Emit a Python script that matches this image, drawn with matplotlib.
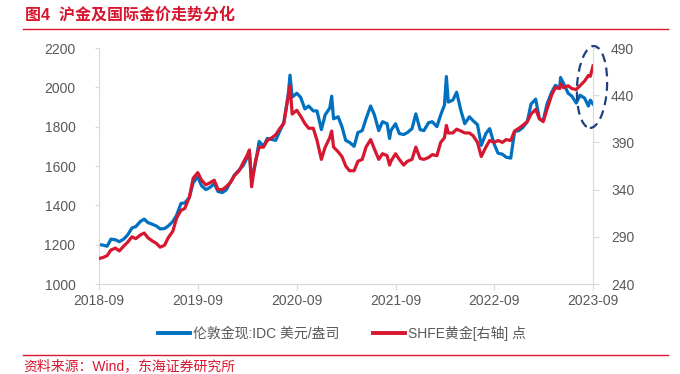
#!/usr/bin/env python3
"""Shanghai gold vs international gold price chart (图4)."""

import matplotlib

matplotlib.use("Agg")

import matplotlib.pyplot as plt
import matplotlib.dates as mdates
import pandas as pd
from matplotlib.lines import Line2D
from matplotlib.patches import Ellipse

RED = "#D7172F"
BLUE = "#0070C0"
GREY = "#595959"
AXIS_GREY = "#D9D9D9"

DATES = [
    "2018-09-01", "2018-09-15", "2018-10-01", "2018-10-15", "2018-11-01", "2018-11-15",
    "2018-12-01", "2018-12-15", "2019-01-01", "2019-01-15", "2019-02-01", "2019-02-15",
    "2019-03-01", "2019-03-15", "2019-04-01", "2019-04-15", "2019-05-01", "2019-05-15",
    "2019-06-01", "2019-06-15", "2019-07-01", "2019-07-15", "2019-08-01", "2019-08-15",
    "2019-09-01", "2019-09-15", "2019-10-01", "2019-10-15", "2019-11-01", "2019-11-15",
    "2019-12-01", "2019-12-15", "2020-01-01", "2020-01-15", "2020-02-01", "2020-02-15",
    "2020-03-01", "2020-03-10", "2020-03-18", "2020-04-01", "2020-04-15", "2020-05-01",
    "2020-05-15", "2020-06-01", "2020-06-15", "2020-07-01", "2020-07-15", "2020-08-01",
    "2020-08-07", "2020-08-15", "2020-09-01", "2020-09-15", "2020-10-01", "2020-10-15",
    "2020-11-01", "2020-11-15", "2020-12-01", "2020-12-15", "2021-01-01", "2021-01-08",
    "2021-01-15", "2021-02-01", "2021-02-15", "2021-03-01", "2021-03-15", "2021-04-01",
    "2021-04-15", "2021-05-01", "2021-05-15", "2021-06-01", "2021-06-15", "2021-07-01",
    "2021-07-15", "2021-08-01", "2021-08-10", "2021-08-15", "2021-09-01", "2021-09-15",
    "2021-10-01", "2021-10-15", "2021-11-01", "2021-11-15", "2021-12-01", "2021-12-15",
    "2022-01-01", "2022-01-15", "2022-02-01", "2022-02-15", "2022-03-01", "2022-03-08",
    "2022-03-15", "2022-04-01", "2022-04-15", "2022-05-01", "2022-05-15", "2022-06-01",
    "2022-06-15", "2022-07-01", "2022-07-15", "2022-08-01", "2022-08-15", "2022-09-01",
    "2022-09-15", "2022-10-01", "2022-10-15", "2022-11-01", "2022-11-15", "2022-12-01",
    "2022-12-15", "2023-01-01", "2023-01-15", "2023-02-01", "2023-02-15", "2023-03-01",
    "2023-03-15", "2023-04-01", "2023-04-15", "2023-05-01", "2023-05-04", "2023-05-15",
    "2023-06-01", "2023-06-15", "2023-07-01", "2023-07-15", "2023-08-01", "2023-08-15",
    "2023-08-22", "2023-09-01",
]

# 伦敦金现 (USD/oz), left axis
LONDON_GOLD = [
    1200, 1198, 1192, 1228, 1225, 1215,
    1228, 1248, 1285, 1292, 1318, 1330,
    1312, 1305, 1295, 1280, 1282, 1295,
    1318, 1350, 1410, 1412, 1440, 1515,
    1545, 1500, 1480, 1490, 1510, 1470,
    1465, 1478, 1520, 1555, 1580, 1600,
    1640, 1670, 1530, 1610, 1725, 1700,
    1740, 1735, 1730, 1780, 1820, 1970,
    2062, 1950, 1970, 1950, 1890, 1905,
    1880, 1880, 1785, 1860, 1895, 1955,
    1840, 1850, 1800, 1730, 1720, 1700,
    1770, 1780, 1840, 1905, 1860, 1780,
    1825, 1815, 1740, 1780, 1815, 1765,
    1760, 1770, 1790, 1865, 1785, 1780,
    1820, 1825, 1800, 1860, 1910, 2055,
    1925, 1935, 1975, 1880, 1815, 1850,
    1830, 1810, 1705, 1765, 1790, 1710,
    1665, 1660, 1645, 1640, 1775, 1780,
    1795, 1825, 1915, 1940, 1840, 1830,
    1915, 1975, 2010, 1995, 2050, 2020,
    1970, 1955, 1920, 1960, 1945, 1905,
    1935, 1915,
]

# SHFE黄金 (CNY/g), right axis
SHFE_GOLD = [
    267, 268, 270, 276, 278, 275,
    280, 284, 290, 288, 292, 294,
    289, 286, 283, 279, 281, 289,
    296, 310, 318, 320, 332, 352,
    358, 350, 345, 347, 350, 340,
    340, 343, 348, 355, 360, 368,
    376, 382, 343, 370, 385, 385,
    392, 395, 398, 405, 410, 440,
    450, 420, 424, 418, 410, 405,
    405, 392, 372, 385, 395, 402,
    385, 380, 375, 365, 360, 360,
    370, 372, 385, 393, 383, 372,
    378, 376, 366, 370, 378, 372,
    366, 370, 372, 385, 373, 372,
    374, 377, 376, 390, 395, 408,
    400, 400, 404, 402, 400, 400,
    397, 390, 375, 385, 392, 390,
    392, 390, 393, 392, 402, 405,
    408, 412, 420, 425, 415, 412,
    425, 440, 448, 447, 452, 448,
    450, 447, 446, 450, 455, 461,
    460, 471,
]

X_TICKS = ["2018-09-01", "2019-09-01", "2020-09-01", "2021-09-01", "2022-09-01", "2023-09-01"]
LEFT_TICKS = [1000, 1200, 1400, 1600, 1800, 2000, 2200]
RIGHT_TICKS = [240, 290, 340, 390, 440, 490]

TITLE = "图4  沪金及国际金价走势分化"
SOURCE = "资料来源：Wind，东海证券研究所"
LABEL_LONDON = "伦敦金现:IDC 美元/盎司"
LABEL_SHFE = "SHFE黄金[右轴] 点"


def setup_style() -> None:
    plt.rcParams["font.family"] = ["Liberation Sans", "Noto Sans CJK SC", "DejaVu Sans"]
    plt.rcParams["axes.unicode_minus"] = False


def main() -> None:
    setup_style()
    dates = pd.to_datetime(DATES)

    fig = plt.figure(figsize=(6.8, 3.74), dpi=100)
    ax = fig.add_axes([99 / 680, 1 - 284 / 374, 494 / 680, 236 / 374])
    ax2 = ax.twinx()

    ax.plot(dates, LONDON_GOLD, color=BLUE, lw=2.3, solid_joinstyle="round")
    ax2.plot(dates, SHFE_GOLD, color=RED, lw=2.3, solid_joinstyle="round")

    ax.set_xlim(pd.Timestamp(X_TICKS[0]), pd.Timestamp(X_TICKS[-1]))
    ax.set_ylim(LEFT_TICKS[0], LEFT_TICKS[-1])
    ax2.set_ylim(RIGHT_TICKS[0], RIGHT_TICKS[-1])
    ax.set_xticks(pd.to_datetime(X_TICKS))
    ax.xaxis.set_major_formatter(mdates.DateFormatter("%Y-%m"))
    ax.set_yticks(LEFT_TICKS)
    ax2.set_yticks(RIGHT_TICKS)

    for a in (ax, ax2):
        for side in ("top", "left", "right"):
            a.spines[side].set_visible(False)
        a.spines["bottom"].set_color(AXIS_GREY)
    ax.spines["left"].set_visible(True)
    ax.spines["left"].set_color(AXIS_GREY)
    ax2.spines["right"].set_visible(True)
    ax2.spines["right"].set_color(AXIS_GREY)

    ax.tick_params(axis="x", colors=AXIS_GREY, labelcolor=GREY, labelsize=10, length=4, pad=3)
    ax.tick_params(axis="y", colors=AXIS_GREY, labelcolor=GREY, labelsize=10, length=3, pad=14)
    ax2.tick_params(axis="y", colors=AXIS_GREY, labelcolor=GREY, labelsize=10, length=4, pad=9)

    # dashed ellipse marking the recent divergence
    fig.add_artist(
        Ellipse(
            (5.92, 3.74 - 0.87),
            0.30,
            0.82,
            angle=-3,
            transform=fig.dpi_scale_trans,
            fill=False,
            ec="#1F3F7F",
            lw=1.6,
            ls=(0, (4, 2.5)),
        )
    )

    handles = [
        Line2D([], [], color=BLUE, lw=2.8),
        Line2D([], [], color=RED, lw=2.8),
    ]
    fig.legend(
        handles,
        [LABEL_LONDON, LABEL_SHFE],
        loc="center",
        bbox_to_anchor=(342 / 680, 1 - 333 / 374),
        ncol=2,
        frameon=False,
        fontsize=10,
        labelcolor=GREY,
        handlelength=2.3,
        handletextpad=0.2,
        columnspacing=2.4,
    )

    fig.text(25 / 680, 1 - 15 / 374, TITLE, color=RED, fontsize=11.5, fontweight="bold", va="center", ha="left")
    fig.add_artist(Line2D([23 / 680, 668 / 680], [1 - 29 / 374] * 2, color=RED, lw=1.0, transform=fig.transFigure))
    fig.add_artist(Line2D([23 / 680, 668 / 680], [1 - 355 / 374] * 2, color=RED, lw=1.0, transform=fig.transFigure))
    fig.text(23 / 680, 1 - 366 / 374, SOURCE, color=RED, fontsize=10, va="center", ha="left")

    fig.savefig("out.png", dpi=100)
    plt.close(fig)


if __name__ == "__main__":
    main()
